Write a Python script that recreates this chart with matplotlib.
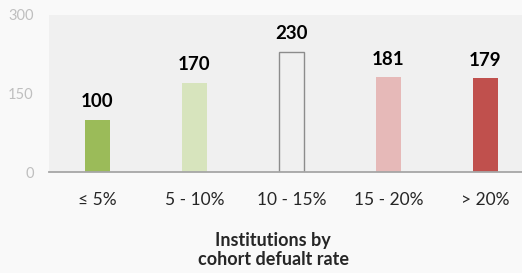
import matplotlib
matplotlib.use("Agg")
import matplotlib.pyplot as plt

categories = ["≤ 5%", "5 - 10%", "10 - 15%", "15 - 20%", "> 20%"]
values = [100, 170, 230, 181, 179]
colors = ["#9bbb59", "#d7e4bd", "none", "#e6b9b8", "#c0504d"]
edges = ["none", "none", "#8c8c8c", "none", "none"]
yticks = [0, 150, 300]
title = "Institutions by\ncohort defualt rate"

plt.rcParams['font.family'] = ['Lato', 'DejaVu Sans']

W, H = 522, 273
fig = plt.figure(figsize=(W/100, H/100), dpi=100)
fig.patch.set_facecolor("#f9f9f9")
ax = fig.add_axes([49/W, (H-172)/H, (534-49)/W, (172-15)/H])
ax.set_facecolor("#f0f0f0")
x = list(range(len(categories)))
bars = ax.bar(x, values, width=0.26, color=colors, edgecolor=edges, linewidth=1.0)
ax.set_xlim(-0.5, 4.5)
ax.set_ylim(0, 300)
ax.set_yticks(yticks)
ax.set_yticklabels([str(v) for v in yticks], color="#bfbfbf", fontsize=10.5)
ax.set_xticks(x)
ax.set_xticklabels(categories, fontsize=12.5, color="#262626")
ax.tick_params(length=0)
ax.tick_params(axis='x', pad=14.5)
ax.tick_params(axis='y', pad=11)
for s in ["top", "right", "left"]:
    ax.spines[s].set_visible(False)
ax.spines["bottom"].set_color("#a6a6a6")
ax.spines["bottom"].set_linewidth(1.3)
for xi, v in zip(x, values):
    ax.annotate(str(v), (xi, v), xytext=(0, 7), textcoords="offset points",
                ha="center", va="bottom", fontsize=13.5, fontweight="bold", color="#000000")
fig.text(273/W, 1 - 250/H, title, ha="center", va="center", fontsize=13,
         fontweight="bold", color="#262626", linespacing=1.1)
fig.savefig("out.png", dpi=100, facecolor=fig.get_facecolor())
